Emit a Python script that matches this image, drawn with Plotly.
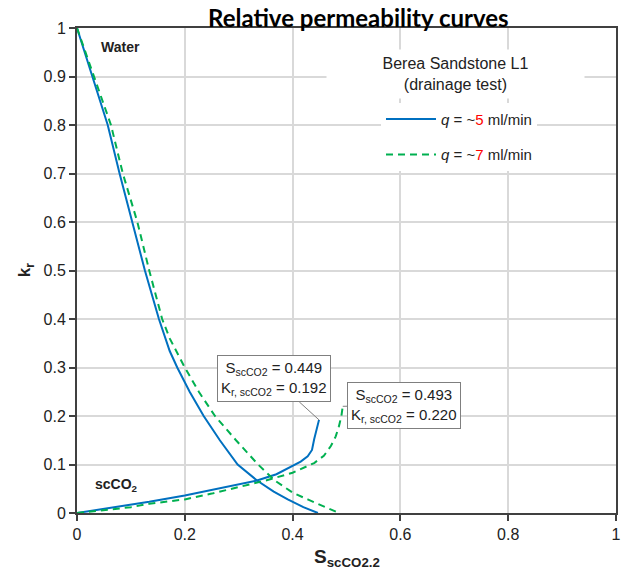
import plotly.graph_objects as go

# ---- data ----
blue_w_s = [0, 0.029, 0.057, 0.079, 0.103, 0.126, 0.152, 0.172, 0.186, 0.209, 0.235, 0.265, 0.298, 0.334, 0.365, 0.391, 0.420, 0.447]
blue_w_kr = [1, 0.9, 0.8, 0.7, 0.6, 0.5, 0.4, 0.334, 0.3, 0.25, 0.2, 0.15, 0.1, 0.067, 0.044, 0.028, 0.012, 0]
blue_g_s = [0, 0.05, 0.1, 0.134, 0.2, 0.25, 0.3, 0.334, 0.37, 0.4, 0.415, 0.428, 0.436, 0.440, 0.445, 0.449]
blue_g_kr = [0, 0.008, 0.016, 0.023, 0.036, 0.047, 0.058, 0.067, 0.08, 0.098, 0.106, 0.117, 0.130, 0.152, 0.172, 0.192]

green_w_s = [0, 0.031, 0.063, 0.085, 0.112, 0.134, 0.158, 0.172, 0.184, 0.2, 0.226, 0.256, 0.295, 0.336, 0.367, 0.400, 0.428, 0.460, 0.486]
green_w_kr = [1, 0.9, 0.8, 0.7, 0.6, 0.5, 0.4, 0.36, 0.334, 0.3, 0.25, 0.2, 0.15, 0.1, 0.067, 0.042, 0.028, 0.012, 0]
green_g_s = [0, 0.05, 0.1, 0.134, 0.2, 0.25, 0.3, 0.35, 0.4, 0.44, 0.458, 0.471, 0.48, 0.486, 0.4905, 0.493]
green_g_kr = [0, 0.006, 0.012, 0.019, 0.028, 0.04, 0.054, 0.067, 0.083, 0.103, 0.118, 0.138, 0.158, 0.179, 0.2, 0.22]

x_ticks = [0, 0.2, 0.4, 0.6, 0.8, 1]
y_ticks = [0, 0.1, 0.2, 0.3, 0.4, 0.5, 0.6, 0.7, 0.8, 0.9, 1]

BLUE = "#0070C0"
GREEN = "#00B050"
FONT = "Liberation Sans, Arial, sans-serif"
TXT = "#222222"

fig = go.Figure()
fig.add_trace(go.Scatter(x=blue_w_s, y=blue_w_kr, mode="lines", line=dict(color=BLUE, width=2),
                         name="<i>q</i> = ~<span style='color:red'>5</span> ml/min",
                         legendgroup="a", showlegend=True))
fig.add_trace(go.Scatter(x=blue_g_s, y=blue_g_kr, mode="lines", line=dict(color=BLUE, width=2),
                         legendgroup="a", showlegend=False))
fig.add_trace(go.Scatter(x=green_w_s, y=green_w_kr, mode="lines",
                         line=dict(color=GREEN, width=2, dash="7px,5px"),
                         name="<i>q</i> = ~<span style='color:red'>7</span> ml/min",
                         legendgroup="b", showlegend=True))
fig.add_trace(go.Scatter(x=green_g_s, y=green_g_kr, mode="lines",
                         line=dict(color=GREEN, width=2, dash="7px,5px"),
                         legendgroup="b", showlegend=False))

axis_common = dict(showline=True, linecolor="#404040", linewidth=2, mirror=True,
                   ticks="outside", ticklen=6, tickcolor="#404040", tickwidth=1.5,
                   showgrid=True, gridcolor="#d9d9d9", gridwidth=1.5, zeroline=False,
                   ticklabeloverflow="allow",
                   tickfont=dict(family=FONT, size=16, color=TXT))

fig.update_xaxes(range=[0, 1], tickvals=x_ticks, ticktext=[f"{v:g}" for v in x_ticks], **axis_common)
fig.update_yaxes(range=[0, 1], tickvals=y_ticks, ticktext=[f"{v:g}" for v in y_ticks], **axis_common)

annotations = [
    dict(text="<b>Relative permeability curves</b>", xref="paper", yref="paper", x=0.522, y=1.022,
         xanchor="center", yanchor="middle", showarrow=False, font=dict(family="Lato, sans-serif", size=24, color="#000")),
    dict(text="<b>S<sub>scCO2.2</sub></b>", xref="paper", yref="paper", x=0.5, y=-0.093,
         xanchor="center", yanchor="middle", showarrow=False, font=dict(family=FONT, size=19, color=TXT)),
    dict(text="<b>k<sub>r</sub></b>", xref="paper", yref="paper", x=-0.095, y=0.5,
         xanchor="center", yanchor="middle", showarrow=False, textangle=-90, font=dict(family=FONT, size=17, color=TXT)),
    dict(text="<b>Water</b>", x=0.080, y=0.961, xanchor="center", yanchor="middle", showarrow=False,
         font=dict(family=FONT, size=14, color=TXT)),
    dict(text="<b>scCO<sub>2</sub></b>", x=0.073, y=0.057, xanchor="center", yanchor="middle", showarrow=False,
         font=dict(family=FONT, size=14, color=TXT)),
    dict(text="Berea Sandstone L1<br>(drainage test)", xref="paper", yref="paper", x=0.703, y=0.906,
         xanchor="center", yanchor="middle", showarrow=False, bgcolor="white", width=255, height=46,
         font=dict(family=FONT, size=16, color=TXT)),
    dict(text="S<sub>scCO2</sub> = 0.449<br>K<sub>r, scCO2</sub> = 0.192", x=blue_g_s[-1], y=blue_g_kr[-1],
         ax=-45, ay=-41, showarrow=True, arrowhead=0, arrowwidth=1, arrowcolor="#7f7f7f", standoff=0,
         bgcolor="white", bordercolor="#7f7f7f", borderwidth=1, borderpad=3,
         font=dict(family=FONT, size=15, color=TXT)),
    dict(text="S<sub>scCO2</sub> = 0.493<br>K<sub>r, scCO2</sub> = 0.220", x=green_g_s[-1], y=green_g_kr[-1],
         ax=61, ay=-1, showarrow=True, arrowhead=0, arrowwidth=1, arrowcolor="#7f7f7f", standoff=0,
         bgcolor="white", bordercolor="#7f7f7f", borderwidth=1, borderpad=3,
         font=dict(family=FONT, size=15, color=TXT)),
]

fig.update_layout(
    width=621, height=570,
    margin=dict(l=77, r=0, t=28, b=57),
    plot_bgcolor="white", paper_bgcolor="white",
    font=dict(family=FONT, size=14, color=TXT),
    legend=dict(x=0.564, y=0.846, xanchor="left", yanchor="top", bgcolor="white",
                borderwidth=0, tracegroupgap=13, traceorder="grouped", itemwidth=50,
                font=dict(family=FONT, size=15, color=TXT)),
    annotations=annotations,
)

fig.write_html("out.html")
